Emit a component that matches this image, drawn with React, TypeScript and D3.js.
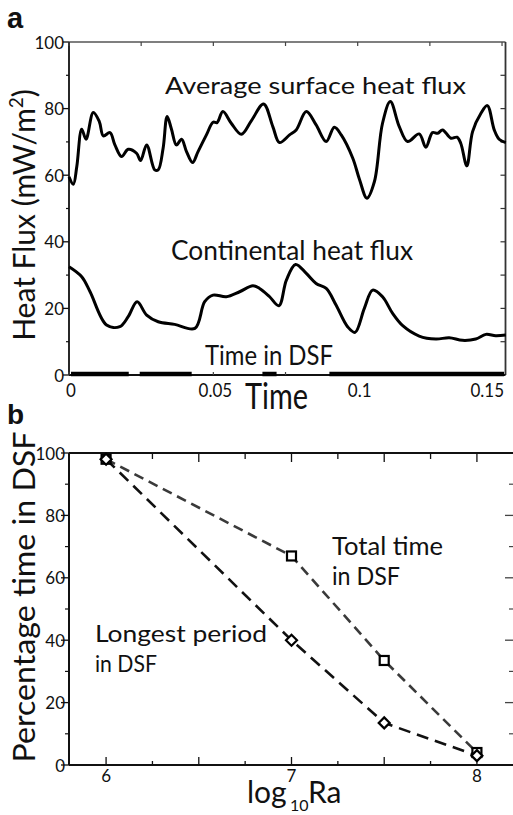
import React from "react";
import * as d3 from "d3";

// ---------- Panel a data ----------
const avgTime = [0, 0.0015, 0.0027, 0.0044, 0.0059, 0.0084, 0.0105, 0.0119, 0.0142, 0.0159, 0.0182, 0.0205, 0.0234, 0.0248, 0.0269, 0.0297, 0.0309, 0.0326, 0.034, 0.0355, 0.0372, 0.039, 0.0407, 0.0428, 0.0447, 0.0476, 0.0499, 0.0513, 0.0533, 0.0562, 0.0597, 0.0632, 0.0674, 0.0706, 0.0729, 0.0764, 0.0787, 0.0822, 0.0856, 0.0891, 0.0919, 0.0943, 0.0983, 0.1006, 0.1032, 0.1058, 0.1086, 0.1113, 0.1144, 0.1173, 0.1213, 0.1236, 0.1259, 0.1277, 0.1294, 0.1323, 0.1344, 0.1357, 0.1378, 0.1398, 0.1427, 0.1449, 0.1473, 0.149, 0.1513];
const avgFlux = [59.5, 57.3, 62.6, 73.8, 70.8, 78.8, 76.1, 71.8, 72.8, 69.1, 65.6, 67.8, 66.6, 64.4, 69.1, 61.6, 61.6, 68.1, 77.6, 73.8, 69.1, 70.8, 67.1, 63.8, 67.1, 72.1, 75.9, 75.8, 79.1, 75.6, 72.3, 76.4, 81.4, 74.6, 69.8, 72.1, 73.6, 79.1, 75.1, 70.1, 74.4, 72.1, 65.1, 58.8, 53.1, 58.1, 75.6, 82.1, 74.6, 70.1, 72.4, 68.4, 72.8, 72.6, 73.6, 71.1, 71.4, 69.6, 62.8, 73.1, 78.6, 80.9, 73.6, 70.8, 69.8];

const contTime = [0, 0.0044, 0.0073, 0.013, 0.0176, 0.0205, 0.0236, 0.0269, 0.0309, 0.0366, 0.0436, 0.047, 0.0499, 0.0545, 0.0591, 0.0637, 0.066, 0.0695, 0.0727, 0.0753, 0.0785, 0.0822, 0.0856, 0.0891, 0.0925, 0.0965, 0.0991, 0.1023, 0.1052, 0.1086, 0.1121, 0.1156, 0.1213, 0.1271, 0.1317, 0.1363, 0.1409, 0.1444, 0.1478, 0.1513];
const contFlux = [32.5, 29.5, 25.0, 15.0, 14.5, 17.5, 22.0, 18.0, 16.0, 15.2, 14.0, 22.0, 24.0, 23.5, 25.0, 26.8, 26.0, 23.5, 20.8, 28.5, 33.2, 30.5, 27.5, 26.0, 21.0, 14.5, 12.8, 20.0, 25.5, 23.5, 18.5, 14.8, 11.7, 10.8, 11.2, 10.4, 10.8, 12.2, 11.8, 12.0];

const dsfStart = [0.0007, 0.0245, 0.067, 0.0902];
const dsfEnd = [0.0207, 0.0425, 0.0719, 0.1507];

const timeTicks = [0, 0.05, 0.1, 0.15];
const timeTickLabels = ["0", "0.05", "0.1", "0.15"];
const fluxTicks = [0, 20, 40, 60, 80, 100];

// ---------- Panel b data ----------
const logRa = [6, 7, 7.5, 8];
const totalTime = [98, 67, 33.5, 4];
const longestPeriod = [98, 40, 13.5, 3];
const raTicks = [6, 7, 8];
const pctTicks = [0, 20, 40, 60, 80, 100];

const FONT = "Lato, 'DejaVu Sans', sans-serif";

type TP = {
  x: number; y: number; size: number; children: React.ReactNode;
  anchor?: string; len?: number; rot?: number; sy?: number; weight?: string; family?: string;
};
const T = ({ x, y, size, children, anchor = "start", len, rot = 0, sy = 1, weight = "normal", family = FONT }: TP) => (
  <text
    transform={`translate(${x},${y}) rotate(${rot}) scale(1,${sy})`}
    fontSize={size}
    fontFamily={family}
    fontWeight={weight}
    textAnchor={anchor}
    textLength={len}
    lengthAdjust={len ? "spacingAndGlyphs" : undefined}
    fill="#111"
  >
    {children}
  </text>
);

export default function App() {
  // panel a scales
  const xA = d3.scaleLinear().domain([0, 0.1512]).range([69, 505.5]);
  const yA = d3.scaleLinear().domain([0, 100]).range([375, 42]);
  // panel b scales
  const xB = d3.scaleLinear().domain([5.8, 8.2]).range([69, 514]);
  const yB = d3.scaleLinear().domain([0, 100]).range([765, 453]);

  const lineA = d3
    .line<[number, number]>()
    .x((d) => xA(d[0]))
    .y((d) => yA(d[1]))
    .curve(d3.curveCatmullRom.alpha(0.5));
  const avgPath = lineA(avgTime.map((t, i) => [t, avgFlux[i]]))!;
  const contPath = lineA(contTime.map((t, i) => [t, contFlux[i]]))!;

  const lineB = d3
    .line<[number, number]>()
    .x((d) => xB(d[0]))
    .y((d) => yB(d[1]));
  const totalPath = lineB(logRa.map((r, i) => [r, totalTime[i]]))!;
  const longestPath = lineB(logRa.map((r, i) => [r, longestPeriod[i]]))!;

  const minorA = d3.range(10, 100, 20);
  const xTicksA = d3.range(0, 0.1501, 0.025);
  const minorB = d3.range(10, 100, 20);
  const xTicksB = d3.range(6, 8.01, 0.25);

  const [xa0, xa1] = xA.range();
  const [ya0, ya1] = yA.range();
  const [xb0, xb1] = xB.range();
  const [yb0, yb1] = yB.range();

  return (
    <svg
      width={513}
      height={815}
      style={{ position: "absolute", left: 0, top: 0, background: "#fff" }}
    >
      <rect x={0} y={0} width={513} height={815} fill="#fff" />

      {/* ================= Panel a ================= */}
      <T x={7} y={28} size={29} weight="bold" family="'Liberation Sans', Arial, sans-serif">a</T>

      {/* frame */}
      <line x1={xa0} x2={xa1} y1={ya1} y2={ya1} stroke="#555" strokeWidth={1.5} />
      <line x1={xa1} x2={xa1} y1={ya1} y2={ya0} stroke="#333" strokeWidth={1.8} />
      <line x1={xa0} x2={xa0} y1={ya1} y2={ya0} stroke="#111" strokeWidth={1.8} />
      <line x1={xa0} x2={xa1} y1={ya0} y2={ya0} stroke="#111" strokeWidth={1.8} />

      {/* left ticks */}
      {fluxTicks.map((v) => (
        <line key={"la" + v} x1={xa0 - 6} x2={xa0} y1={yA(v)} y2={yA(v)} stroke="#111" strokeWidth={1.3} />
      ))}
      {minorA.map((v) => (
        <line key={"lma" + v} x1={xa0 - 3} x2={xa0} y1={yA(v)} y2={yA(v)} stroke="#111" strokeWidth={1.2} />
      ))}
      {/* right ticks */}
      {d3.range(10, 100, 10).map((v) => (
        <line key={"ra" + v} x1={xa1 - 5} x2={xa1} y1={yA(v)} y2={yA(v)} stroke="#333" strokeWidth={1.2} />
      ))}
      {/* top & bottom ticks */}
      {xTicksA.map((t) => (
        <g key={"ta" + t}>
          <line x1={xA(t)} x2={xA(t)} y1={ya1} y2={ya1 + 4} stroke="#444" strokeWidth={1.2} />
          <line x1={xA(t)} x2={xA(t)} y1={ya0} y2={ya0 - 3} stroke="#444" strokeWidth={1.2} />
        </g>
      ))}

      {/* y tick labels */}
      {fluxTicks.map((v) => (
        <T key={"yla" + v} x={64} y={yA(v) + 6.5} size={17} anchor="end">{String(v)}</T>
      ))}
      {/* x tick labels */}
      {timeTicks.map((t, i) => (
        <T
          key={"xla" + t}
          x={xA(t) + 2}
          y={397}
          size={17}
          sy={1.1}
          anchor={i === timeTicks.length - 1 ? "end" : "middle"}
        >
          {timeTickLabels[i]}
        </T>
      ))}

      {/* DSF bars */}
      {dsfStart.map((s, i) => (
        <line key={"dsf" + i} x1={xA(s)} x2={xA(dsfEnd[i])} y1={ya0 - 1} y2={ya0 - 1} stroke="#000" strokeWidth={4.5} />
      ))}

      {/* curves */}
      <path d={avgPath} fill="none" stroke="#000" strokeWidth={3} strokeLinejoin="round" />
      <path d={contPath} fill="none" stroke="#000" strokeWidth={3} strokeLinejoin="round" />

      {/* annotations */}
      <T x={165} y={94} size={24} len={301}>Average surface heat flux</T>
      <T x={171} y={260} size={26} len={242}>Continental heat flux</T>
      <T x={205} y={365} size={26} len={128}>Time in DSF</T>

      {/* axis titles */}
      <T x={245} y={409} size={36} len={63}>Time</T>
      <text
        transform={`translate(35,215) rotate(-90)`}
        fontSize={30}
        fontFamily={FONT}
        textAnchor="middle"
        fill="#111"
      >
        Heat Flux (mW/m
        <tspan fontSize={19} dy={-12}>2</tspan>
        <tspan dy={12}>)</tspan>
      </text>

      {/* ================= Panel b ================= */}
      <T x={7} y={424} size={28} weight="bold" family="'Liberation Sans', Arial, sans-serif">b</T>

      <line x1={xb0} x2={xb1} y1={yb1} y2={yb1} stroke="#111" strokeWidth={2} />
      <line x1={xb0} x2={xb0} y1={yb1} y2={yb0} stroke="#111" strokeWidth={2} />
      <line x1={xb0} x2={xb1} y1={yb0} y2={yb0} stroke="#111" strokeWidth={2} />
      <line x1={xb1} x2={xb1} y1={yb1} y2={yb0} stroke="#444" strokeWidth={2} />

      {pctTicks.map((v) => (
        <g key={"lb" + v}>
          <line x1={xb0 - 8} x2={xb0} y1={yB(v)} y2={yB(v)} stroke="#111" strokeWidth={1.3} />
          {v > 0 && v < 100 && (
            <line x1={xb1 - 9} x2={xb1} y1={yB(v)} y2={yB(v)} stroke="#444" strokeWidth={1.3} />
          )}
        </g>
      ))}
      {minorB.map((v) => (
        <g key={"lmb" + v}>
          <line x1={xb0 - 4} x2={xb0} y1={yB(v)} y2={yB(v)} stroke="#111" strokeWidth={1.2} />
          <line x1={xb1 - 5} x2={xb1} y1={yB(v)} y2={yB(v)} stroke="#444" strokeWidth={1.2} />
        </g>
      ))}
      {xTicksB.map((r, i) => {
        const major = i % 2 === 0;
        return (
          <g key={"tb" + r}>
            <line x1={xB(r)} x2={xB(r)} y1={yb1} y2={yb1 + (major ? 9 : 6)} stroke="#111" strokeWidth={1.3} />
            <line x1={xB(r)} x2={xB(r)} y1={yb0} y2={yb0 - (major ? 8 : 4)} stroke="#111" strokeWidth={1.3} />
          </g>
        );
      })}

      {pctTicks.map((v) => (
        <T key={"ylb" + v} x={65} y={yB(v) + 6.5} size={17} anchor="end">{String(v)}</T>
      ))}
      {raTicks.map((r) => (
        <T key={"xlb" + r} x={xB(r)} y={782} size={17} anchor="middle">{String(r)}</T>
      ))}

      {/* series */}
      <path d={totalPath} fill="none" stroke="#3a3a3a" strokeWidth={2.6} strokeDasharray="10,6" />
      <path d={longestPath} fill="none" stroke="#111" strokeWidth={2.6} strokeDasharray="12,7" />
      {logRa.map((r, i) => (
        <rect
          key={"sq" + r}
          x={xB(r) - 4.5}
          y={yB(totalTime[i]) - 4.5}
          width={9}
          height={9}
          fill="#fff"
          stroke="#000"
          strokeWidth={2.2}
        />
      ))}
      {logRa.map((r, i) => {
        const cx = xB(r);
        const cy = yB(longestPeriod[i]);
        return (
          <path
            key={"dm" + r}
            d={`M${cx},${cy - 5.5}L${cx + 5.5},${cy}L${cx},${cy + 5.5}L${cx - 5.5},${cy}Z`}
            fill="#fff"
            stroke="#000"
            strokeWidth={2.2}
          />
        );
      })}

      <T x={332} y={555} size={25} len={111}>Total time</T>
      <T x={332} y={585} size={25} len={68}>in DSF</T>
      <T x={95} y={642} size={24} len={172}>Longest period</T>
      <T x={95} y={672} size={24} len={62}>in DSF</T>

      <text transform={`translate(35,597) rotate(-90)`} fontSize={31} fontFamily={FONT} textAnchor="middle" fill="#111" textLength={331} lengthAdjust="spacingAndGlyphs">
        Percentage time in DSF
      </text>

      <text fontFamily={FONT} fill="#111">
        <tspan x={247} y={803} fontSize={30}>log</tspan>
        <tspan x={290} y={811} fontSize={16}>10</tspan>
        <tspan x={308} y={803} fontSize={30}>Ra</tspan>
      </text>
    </svg>
  );
}
